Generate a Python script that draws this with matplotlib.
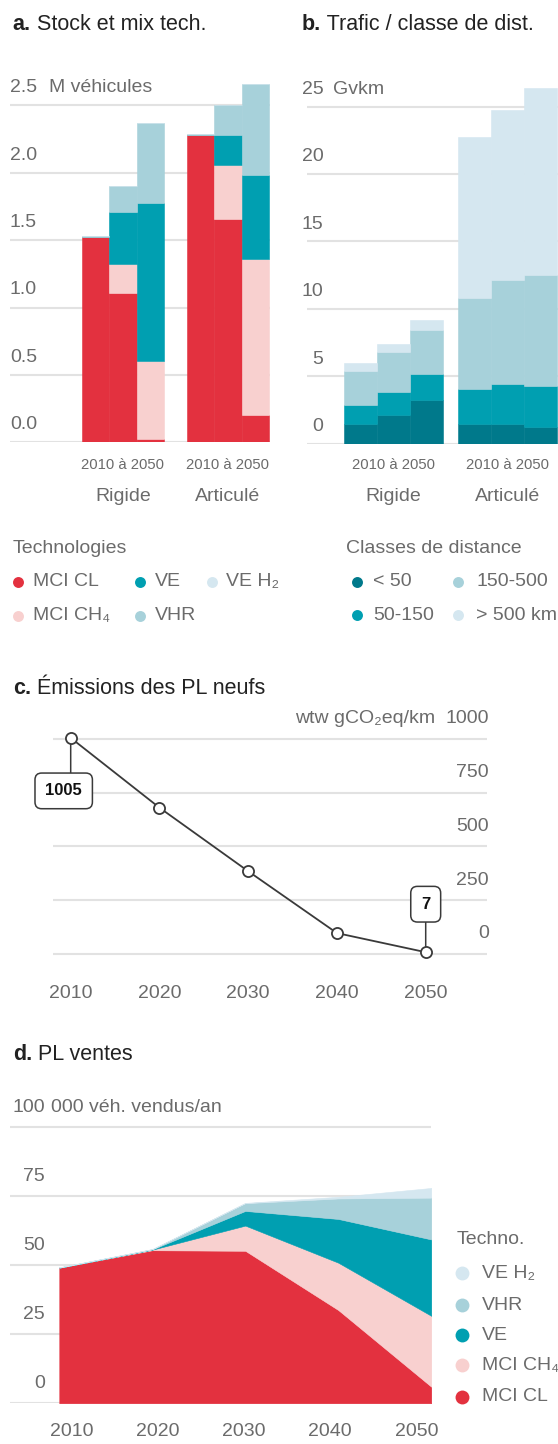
import numpy as np
import matplotlib.pyplot as plt

plt.rcParams['font.family'] = ['Liberation Sans', 'DejaVu Sans']

# ---- data -------------------------------------------------------------
bar_years = ['2010', '2030', '2050']
groups = ['Rigide', 'Articulé']

# stock, M vehicles (MCI CL, MCI CH4, VE, VHR, VE H2)
stock_rigide_cl = [1.52, 1.11, 0.025]
stock_rigide_ch4 = [0.00, 0.21, 0.58]
stock_rigide_ve = [0.00, 0.39, 1.17]
stock_rigide_vhr = [0.01, 0.19, 0.59]
stock_rigide_h2 = [0.00, 0.00, 0.00]
stock_artic_cl = [2.28, 1.66, 0.20]
stock_artic_ch4 = [0.00, 0.40, 1.16]
stock_artic_ve = [0.00, 0.22, 0.62]
stock_artic_vhr = [0.01, 0.22, 0.68]
stock_artic_h2 = [0.00, 0.00, 0.00]

# traffic by distance class, Gvkm
traffic_rigide_lt50 = [1.46, 2.15, 3.27]
traffic_rigide_50_150 = [1.41, 1.71, 1.90]
traffic_rigide_150_500 = [2.55, 2.97, 3.30]
traffic_rigide_gt500 = [0.59, 0.60, 0.74]
traffic_artic_lt50 = [1.46, 1.46, 1.26]
traffic_artic_50_150 = [2.62, 3.00, 3.05]
traffic_artic_150_500 = [6.76, 7.72, 8.24]
traffic_artic_gt500 = [11.88, 12.55, 13.86]

# emissions of new trucks, wtw gCO2eq/km
emis_years = [2010, 2020, 2030, 2040, 2050]
emis_values = [1005, 680, 384, 96, 7]

# sales, thousands of vehicles per year
sales_years = [2010, 2020, 2030, 2040, 2050]
sales_cl = [49.0, 55.3, 55.1, 33.7, 6.0]
sales_ch4 = [0.0, 0.2, 9.1, 17.1, 25.6]
sales_ve = [0.0, 0.1, 5.3, 15.8, 27.6]
sales_vhr = [0.1, 0.1, 2.8, 7.4, 15.1]
sales_h2 = [0.0, 0.0, 0.1, 0.6, 3.5]

stock_ticks = [0, 0.5, 1.0, 1.5, 2.0, 2.5]
traffic_ticks = [0, 5, 10, 15, 20, 25]
emis_ticks = [0, 250, 500, 750, 1000]
sales_ticks = [0, 25, 50, 75, 100]

# ---- style ------------------------------------------------------------
C_CL = '#e3313f'
C_CH4 = '#f8d0cf'
C_VE = '#009fb1'
C_VHR = '#a7d1da'
C_H2 = '#d5e7f0'
C_D50 = '#00798b'
TECH_COLORS = [C_CL, C_CH4, C_VE, C_VHR, C_H2]
DIST_COLORS = [C_D50, C_VE, C_VHR, C_H2]
GREY = '#6b6b6b'
DARK = '#222222'
GRID = '#e2e2e2'
LINE = '#3a3a3a'

FS_TITLE = 15.5
FS = 14
FS_SMALL = 10.7

W, H = 558, 1444
fig = plt.figure(figsize=(W / 100, H / 100), dpi=100)
fig.patch.set_facecolor('white')


def px_axes(x0, y0, x1, y1):
    return fig.add_axes([x0 / W, 1 - y1 / H, (x1 - x0) / W, (y1 - y0) / H])


def base_style(ax, ticks):
    for s in ax.spines.values():
        s.set_visible(False)
    ax.set_yticks(ticks)
    ax.set_xticks([])
    ax.tick_params(length=0, labelleft=False, labelbottom=False)
    ax.grid(axis='y', color=GRID, lw=1.5)
    ax.set_axisbelow(True)
    ax.patch.set_alpha(0)


def tick_labels(ax, ticks, fmt, xfrac, up, ha='right'):
    for v in ticks:
        ax.annotate(fmt(v), xy=(xfrac, v), xycoords=ax.get_yaxis_transform(),
                    xytext=(0, up), textcoords='offset pixels',
                    ha=ha, va='center', fontsize=FS, color=GREY)


def stacked_group(ax, x0, layers, colors):
    xs = x0 + np.arange(len(layers[0]))
    bottom = np.zeros(len(xs))
    for vals, col in zip(layers, colors):
        vals = np.asarray(vals)
        ax.bar(xs, vals, width=1.0, bottom=bottom, color=col,
               edgecolor=col, lw=0.4)
        bottom += vals
    return xs.mean()


def group_labels(ax, centers, down1, down2):
    for cx, name in zip(centers, groups):
        ax.annotate(f'{bar_years[0]} à {bar_years[-1]}', xy=(cx, 0),
                    xytext=(0, -down1), textcoords='offset pixels',
                    ha='center', va='center', fontsize=FS_SMALL, color=GREY,
                    annotation_clip=False)
        ax.annotate(name, xy=(cx, 0), xytext=(0, -down2),
                    textcoords='offset pixels', ha='center', va='center',
                    fontsize=FS, color=GREY, annotation_clip=False)


# ---- a. stock ----------------------------------------------------------
ax_a = px_axes(10, 60, 270, 442.3)
base_style(ax_a, stock_ticks)
gap_a = 0.84
ca1 = stacked_group(ax_a, 0, [stock_rigide_cl, stock_rigide_ch4, stock_rigide_ve,
                              stock_rigide_vhr, stock_rigide_h2], TECH_COLORS)
ca2 = stacked_group(ax_a, 3 + gap_a, [stock_artic_cl, stock_artic_ch4, stock_artic_ve,
                                      stock_artic_vhr, stock_artic_h2], TECH_COLORS)
ax_a.set_xlim(-3.134, 6.38)
ax_a.set_ylim(0, (442.3 - 60) / 134.8)
tick_labels(ax_a, stock_ticks, lambda v: f'{v:.1f}', 27 / 260, 17.5)
ax_a.annotate('M véhicules', xy=(39.3 / 260, 2.5), xycoords=ax_a.get_yaxis_transform(),
              xytext=(0, 17.5), textcoords='offset pixels', ha='left', va='center',
              fontsize=FS, color=GREY)
group_labels(ax_a, [ca1, ca2], 22.7, 54.4)

# ---- b. traffic --------------------------------------------------------
ax_b = px_axes(307, 60, 558, 443.7)
base_style(ax_b, traffic_ticks)
gap_b = 0.455
cb1 = stacked_group(ax_b, 0, [traffic_rigide_lt50, traffic_rigide_50_150,
                              traffic_rigide_150_500, traffic_rigide_gt500], DIST_COLORS)
cb2 = stacked_group(ax_b, 3 + gap_b, [traffic_artic_lt50, traffic_artic_50_150,
                                      traffic_artic_150_500, traffic_artic_gt500], DIST_COLORS)
ax_b.set_xlim(-1.621, 5.985)
ax_b.set_ylim(0, (443.7 - 60) / 13.48)
tick_labels(ax_b, traffic_ticks, lambda v: f'{v:d}', 16.3 / 251, 17.3)
ax_b.annotate('Gvkm', xy=(25.7 / 251, 25), xycoords=ax_b.get_yaxis_transform(),
              xytext=(0, 17.3), textcoords='offset pixels', ha='left', va='center',
              fontsize=FS, color=GREY)
group_labels(ax_b, [cb1, cb2], 21.3, 53)

# ---- c. emissions ------------------------------------------------------
ax_c = px_axes(53, 725, 487.3, 970)
base_style(ax_c, emis_ticks)
ax_c.plot(emis_years, emis_values, '-o', color=LINE, lw=1.3, ms=8,
          mfc='white', mec=LINE, mew=1.3, zorder=4, clip_on=False)
ax_c.set_xlim(2008.006, 2056.94)
ax_c.set_ylim(-75.9, 1065)
tick_labels(ax_c, emis_ticks, lambda v: f'{v:d}', 1.0032, 20)
ax_c.annotate('wtw gCO₂eq/km', xy=(381.7 / 434.3, 1000), xycoords=ax_c.get_yaxis_transform(),
              xytext=(0, 20), textcoords='offset pixels', ha='right', va='center',
              fontsize=FS, color=GREY)
for yr in emis_years:
    ax_c.annotate(str(yr), xy=(yr, 0), xycoords=ax_c.get_xaxis_transform(),
                  xytext=(0, -23), textcoords='offset pixels', ha='center', va='center',
                  fontsize=FS, color=GREY)

# value callouts: a vertical leader and a rounded box
box = dict(boxstyle='round,pad=0.62,rounding_size=0.4', fc='white', ec=LINE, lw=1.1)
for i, (box_dx, box_dy, lead) in zip([0, -1], [(-7, -53, -35.5), (0, 48, 30.5)]):
    xy = (emis_years[i], emis_values[i])
    ax_c.annotate('', xy=xy, xytext=(0, lead), textcoords='offset pixels',
                  arrowprops=dict(arrowstyle='-', color=LINE, lw=1.1,
                                  shrinkA=0, shrinkB=0), zorder=3)
    ax_c.annotate(str(emis_values[i]), xy=xy, xytext=(box_dx, box_dy),
                  textcoords='offset pixels', ha='center', va='center',
                  fontsize=12, weight='bold', color='#111111', bbox=box, zorder=3)

# ---- d. sales ----------------------------------------------------------
ax_d = px_axes(10, 1120, 431.3, 1403.3)
base_style(ax_d, sales_ticks)
polys = ax_d.stackplot(sales_years, sales_cl, sales_ch4, sales_ve, sales_vhr, sales_h2,
                       colors=TECH_COLORS)
for p, col in zip(polys, TECH_COLORS):
    p.set_edgecolor(col)
    p.set_linewidth(0.4)
ax_d.set_xlim(2004.70, 2050)
ax_d.set_ylim(0, (1403.3 - 1120) / 2.768)
tick_labels(ax_d, sales_ticks, lambda v: f'{v:d}', 35 / 421.3, 19.4)
ax_d.annotate('000 véh. vendus/an', xy=(40.7 / 421.3, 100), xycoords=ax_d.get_yaxis_transform(),
              xytext=(0, 19.4), textcoords='offset pixels', ha='left', va='center',
              fontsize=FS, color=GREY)
for yr in sales_years:
    ax_d.annotate(str(yr), xy=(2029.85 + (yr - 2030) * 0.928, 0),
                  xycoords=ax_d.get_xaxis_transform(), xytext=(0, -28.7),
                  textcoords='offset pixels', ha='center', va='center',
                  fontsize=FS, color=GREY, annotation_clip=False)

# ---- titles and legends (pixel coordinates) ----------------------------
bg = fig.add_axes([0, 0, 1, 1])
bg.set_xlim(0, W)
bg.set_ylim(H, 0)
bg.axis('off')


def panel_title(x, y, letter, text):
    t = bg.text(x, y, letter, fontsize=FS_TITLE, weight='bold', color=DARK,
                ha='left', va='center')
    bg.annotate(' ' + text, xy=(1, 0), xycoords=t, ha='left', va='bottom',
                fontsize=FS_TITLE, color=DARK)


panel_title(12.7, 25, 'a.', 'Stock et mix tech.')
panel_title(301.7, 25, 'b.', 'Trafic / classe de dist.')
panel_title(12.7, 689, 'c.', 'Émissions des PL neufs')
panel_title(12.7, 1055, 'd.', 'PL ventes')


def legend_item(x, y, label, color, dx=14.5, size=62):
    bg.scatter([x], [y], s=size, color=color, lw=0)
    bg.text(x + dx, y, label, ha='left', va='center', fontsize=FS, color=GREY)


bg.text(12.7, 548.3, 'Technologies', ha='left', va='center', fontsize=FS, color=GREY)
legend_item(18.3, 581.7, 'MCI CL', C_CL)
legend_item(140, 581.7, 'VE', C_VE)
legend_item(211.7, 581.7, 'VE H₂', C_H2)
legend_item(18.3, 616, 'MCI CH₄', C_CH4)
legend_item(140, 616, 'VHR', C_VHR)

bg.text(346.3, 548.3, 'Classes de distance', ha='left', va='center', fontsize=FS, color=GREY)
legend_item(357, 581.7, '< 50', C_D50, dx=16)
legend_item(458, 581.7, '150-500', C_VHR, dx=18)
legend_item(357, 615, '50-150', C_VE, dx=16)
legend_item(458, 615, '> 500 km', C_H2, dx=18)

bg.text(456.3, 1239.3, 'Techno.', ha='left', va='center', fontsize=FS, color=GREY)
for y, lab, col in zip([1273.3, 1305, 1335, 1365, 1396.7],
                       ['VE H₂', 'VHR', 'VE', 'MCI CH₄', 'MCI CL'],
                       [C_H2, C_VHR, C_VE, C_CH4, C_CL]):
    legend_item(462, y, lab, col, dx=20, size=100)

fig.savefig('out.png', dpi=100)
